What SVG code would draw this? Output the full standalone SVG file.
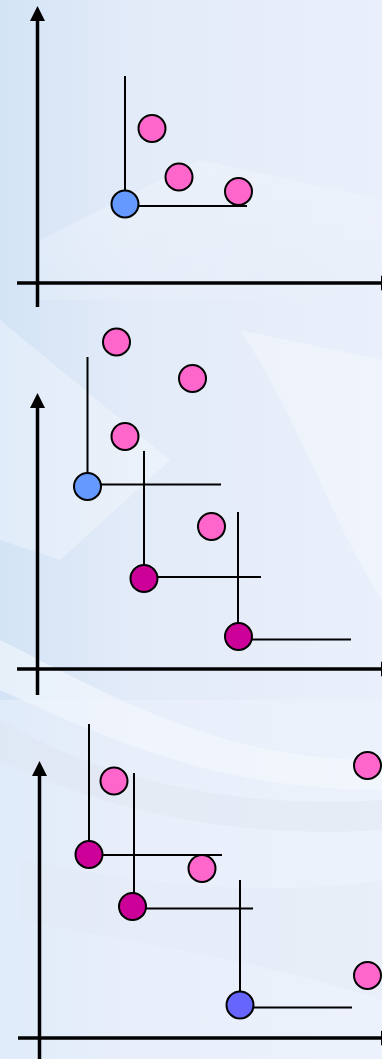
<svg xmlns="http://www.w3.org/2000/svg" width="382" height="1059" viewBox="0 0 382 1059">
  <defs>
    <marker id="arrow" viewBox="0 0 10 10" refX="0" refY="5" markerWidth="4.3" markerHeight="4.3" markerUnits="strokeWidth" orient="auto">
      <path d="M0,0 L10,5 L0,10 Z" fill="#000"/>
    </marker>
    <linearGradient id="bg" x1="0" y1="0" x2="1" y2="0">
      <stop offset="0" stop-color="#d3e4f6"/>
      <stop offset="0.35" stop-color="#e3ebf8"/>
      <stop offset="1" stop-color="#eaf0fb"/>
    </linearGradient>
    <linearGradient id="sheen" x1="0" y1="0" x2="1" y2="1">
      <stop offset="0" stop-color="#ffffff" stop-opacity="0.7"/>
      <stop offset="1" stop-color="#ffffff" stop-opacity="0"/>
    </linearGradient>
    <style>
      .axis { stroke: #000; stroke-width: 3.5; fill: none; }
      .guide { stroke: #000; stroke-width: 2; fill: none; }
      .pt { stroke: #000; stroke-width: 2; }
      .pink { fill: #ff66cc; }
      .blue { fill: #6699ff; }
      .violet { fill: #6666ff; }
      .magenta { fill: #cc0099; }
    </style>
  </defs>

  <!-- backdrop: soft blue swirl -->
  <rect width="382" height="1059" fill="url(#bg)"/>
  <path d="M0,320 L170,460 L60,560 L0,540 Z" fill="#ffffff" opacity="0.3"/>
  <path d="M40,240 L200,160 L382,200 L382,300 L40,300 Z" fill="url(#sheen)" opacity="0.45"/>
  <path d="M0,640 C120,700 220,760 382,760 L382,790 C220,790 110,740 0,690 Z" fill="#ffffff" opacity="0.45"/>
  <path d="M0,720 C100,780 240,810 382,800 L382,830 C240,840 100,810 0,760 Z" fill="#c9cfdc" opacity="0.3"/>
  <path d="M20,860 C120,880 260,900 382,880 L382,1000 C260,960 120,940 20,920 Z" fill="#d5dcea" opacity="0.3"/>
  <path d="M240,330 C300,420 330,520 382,600 L382,360 Z" fill="#ffffff" opacity="0.3"/>
  <rect x="0" y="700" width="382" height="359" fill="#f0f4fc" opacity="0.45"/>

  <!-- axes and guide lines -->
  <g id="connectors">
    <!-- chart 1 -->
    <line class="axis" x1="37.5" y1="307" x2="37.5" y2="21" marker-end="url(#arrow)"/>
    <line class="axis" x1="17" y1="283" x2="381" y2="283" marker-end="url(#arrow)"/>
    <line class="guide" x1="125" y1="76" x2="125" y2="204"/>
    <line class="guide" x1="125" y1="206" x2="247" y2="206"/>
    <!-- chart 2 -->
    <line class="axis" x1="37.5" y1="695" x2="37.5" y2="408" marker-end="url(#arrow)"/>
    <line class="axis" x1="17" y1="669" x2="381" y2="669" marker-end="url(#arrow)"/>
    <line class="guide" x1="87.5" y1="357" x2="87.5" y2="486"/>
    <line class="guide" x1="87.5" y1="484.5" x2="221" y2="484.5"/>
    <line class="guide" x1="144" y1="451" x2="144" y2="578"/>
    <line class="guide" x1="144" y1="577" x2="261" y2="577"/>
    <line class="guide" x1="238" y1="512" x2="238" y2="636"/>
    <line class="guide" x1="238" y1="639.5" x2="351" y2="639.5"/>
    <!-- chart 3 -->
    <line class="axis" x1="39.5" y1="1059" x2="39.5" y2="776" marker-end="url(#arrow)"/>
    <line class="axis" x1="18" y1="1038" x2="381" y2="1038" marker-end="url(#arrow)"/>
    <line class="guide" x1="89" y1="724" x2="89" y2="854"/>
    <line class="guide" x1="89" y1="855" x2="222" y2="855"/>
    <line class="guide" x1="134" y1="773" x2="134" y2="901"/>
    <line class="guide" x1="132" y1="908.5" x2="253" y2="908.5"/>
    <line class="guide" x1="240" y1="880" x2="240" y2="1005"/>
    <line class="guide" x1="240" y1="1007.5" x2="352" y2="1007.5"/>
  </g>

  <!-- chart 1 points -->
  <g id="c1-ref"><circle class="pt blue" cx="125" cy="204" r="13.5"/></g>
  <g id="c1-p1"><circle class="pt pink" cx="152" cy="128.5" r="13.5"/></g>
  <g id="c1-p2"><circle class="pt pink" cx="179" cy="177" r="13.5"/></g>
  <g id="c1-p3"><circle class="pt pink" cx="238.5" cy="191.5" r="13.5"/></g>

  <!-- chart 2 points -->
  <g id="c2-p1"><circle class="pt pink" cx="116.5" cy="342" r="13.5"/></g>
  <g id="c2-p2"><circle class="pt pink" cx="192.5" cy="378.5" r="13.5"/></g>
  <g id="c2-p3"><circle class="pt pink" cx="125" cy="436.5" r="13.5"/></g>
  <g id="c2-p4"><circle class="pt pink" cx="211.5" cy="526.5" r="13.5"/></g>
  <g id="c2-ref"><circle class="pt blue" cx="87.5" cy="486.5" r="13.5"/></g>
  <g id="c2-sel1"><circle class="pt magenta" cx="144" cy="578.5" r="13.5"/></g>
  <g id="c2-sel2"><circle class="pt magenta" cx="238.5" cy="636.5" r="13.5"/></g>

  <!-- chart 3 points -->
  <g id="c3-p1"><circle class="pt pink" cx="114" cy="781" r="13.5"/></g>
  <g id="c3-p2"><circle class="pt pink" cx="202" cy="868.5" r="13.5"/></g>
  <g id="c3-p3"><circle class="pt pink" cx="367.5" cy="765.5" r="13.5"/></g>
  <g id="c3-p4"><circle class="pt pink" cx="367.5" cy="975.5" r="13.5"/></g>
  <g id="c3-sel1"><circle class="pt magenta" cx="89" cy="854.5" r="13.5"/></g>
  <g id="c3-sel2"><circle class="pt magenta" cx="132.5" cy="906.5" r="13.5"/></g>
  <g id="c3-ref"><circle class="pt violet" cx="240" cy="1005" r="13.5"/></g>
</svg>
